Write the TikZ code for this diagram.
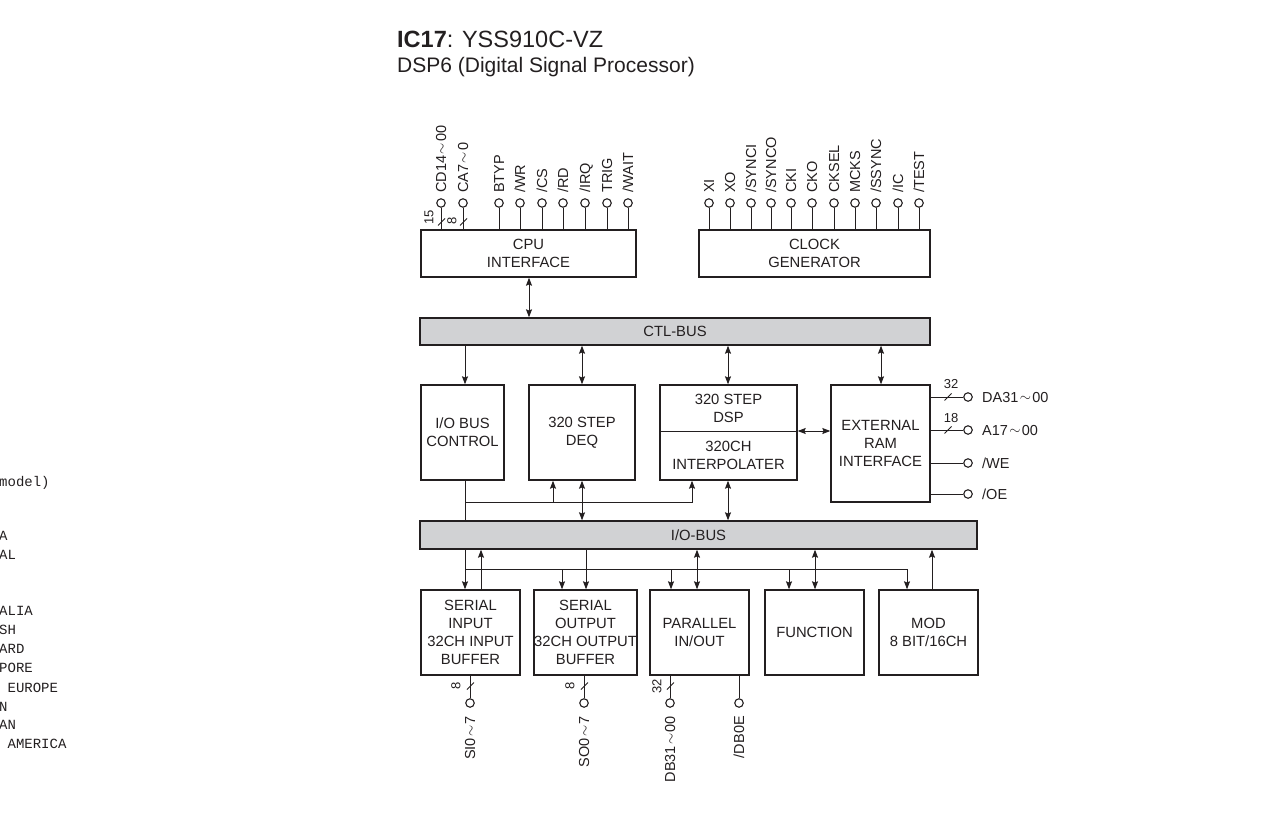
\documentclass[tikz,border=0pt]{standalone}
\usepackage{fontspec}
\setmainfont{Liberation Sans}
\newfontfamily\monofnt{Liberation Mono}
\usetikzlibrary{arrows.meta}
\definecolor{ink}{HTML}{231F20}
\definecolor{busgray}{HTML}{D1D2D4}
\newcommand{\wtld}{\makebox[0.95em]{\raisebox{0.5pt}{$\sim$}}}
\tikzset{
 blk/.style={draw=ink, line width=1.4pt, fill=white, text=ink, align=center, inner sep=0pt, font=\fontsize{14.8}{18}\selectfont},
 bus/.style={blk, fill=busgray},
 wire/.style={draw=ink, line width=0.9pt},
 arr/.style={wire, -{Stealth[length=8pt,width=6pt,inset=1.2pt]}},
 darr/.style={wire, {Stealth[length=8pt,width=6pt,inset=1.2pt]}-{Stealth[length=8pt,width=6pt,inset=1.2pt]}},
 pinc/.style={circle, draw=ink, line width=1.1pt, fill=white, minimum size=8.5pt, inner sep=0pt},
 plab/.style={text=ink, inner sep=0pt, font=\fontsize{14.5}{16}\selectfont, text height=10.4pt, text depth=0pt},
 toplab/.style={plab, rotate=90, anchor=west},
 botlab/.style={plab, rotate=90, anchor=east},
 rlab/.style={plab, anchor=west},
 num/.style={text=ink, inner sep=0pt, font=\fontsize{13}{14}\selectfont},
 mono/.style={inner sep=0pt, anchor=base west, font=\monofnt\fontsize{14}{16}\selectfont, text=ink},
 ttl/.style={inner sep=0pt, anchor=base west, text=ink, font=\fontsize{21}{25}\selectfont},
}
\begin{document}
\begin{tikzpicture}[x=1pt,y=-1pt]
\useasboundingbox (0,0) rectangle (1268,819);

% title
\node[ttl, font=\fontsize{23.5}{26}\selectfont] (title) at (397,47) {\textbf{IC17}: YSS910C-VZ};
\node[ttl] (subtitle) at (397,72) {DSP6 (Digital Signal Processor)};

% clipped text from neighbouring column
\node[mono] (m1) at (-1,486.5) {model)};
\node[mono] (m2) at (-1,540) {A};
\node[mono] (m3) at (-1,559) {AL};
\node[mono] (m4) at (-1,615) {ALIA};
\node[mono] (m5) at (-1,634.5) {SH};
\node[mono] (m6) at (-1,653.5) {ARD};
\node[mono] (m7) at (-1,672.5) {PORE};
\node[mono] (m8) at (-1,692) {\hphantom{A}EUROPE};
\node[mono] (m9) at (-1,711) {N};
\node[mono] (m10) at (-1,729.5) {AN};
\node[mono] (m11) at (-1,748.5) {\hphantom{A}AMERICA};

% blocks
\node[blk, minimum width=215pt, minimum height=47pt] (cpu) at (528.5,253.5) {CPU\\INTERFACE};
\node[blk, minimum width=231pt, minimum height=47pt] (clk) at (814.5,253.5) {CLOCK\\GENERATOR};
\node[bus, minimum width=510pt, minimum height=27pt] (ctl) at (675,331.5) {CTL-BUS};

\node[blk, minimum width=83pt, minimum height=95pt] (iobc) at (462.5,432.5) {I/O BUS\\CONTROL};
\node[blk, minimum width=106pt, minimum height=95pt] (deq) at (582,432.5) {320 STEP\\DEQ};
\node[blk, minimum width=137pt, minimum height=95pt] (dsp) at (728.5,432.5) {};
\draw[wire] (dsp.west |- 0,431) -- (dsp.east |- 0,431);
\node[blk, draw=none, fill=none] (dspT) at (728.5,408) {320 STEP\\DSP};
\node[blk, draw=none, fill=none] (dspB) at (728.5,455.5) {320CH\\INTERPOLATER};
\node[blk, minimum width=99pt, minimum height=117pt] (ram) at (880.5,443.5) {EXTERNAL\\RAM\\INTERFACE};

\node[bus, minimum width=557pt, minimum height=28pt] (iobus) at (698.5,535) {I/O-BUS};

\node[blk, minimum width=99pt, minimum height=85pt] (sin) at (470.5,632.5) {SERIAL\\INPUT\\32CH INPUT\\BUFFER};
\node[blk, minimum width=99pt, minimum height=85pt] (sout) at (585.5,632.5) {SERIAL\\OUTPUT\\32CH OUTPUT\\BUFFER};
\node[blk, minimum width=99pt, minimum height=85pt] (par) at (699.5,632.5) {PARALLEL\\IN/OUT};
\node[blk, minimum width=99pt, minimum height=85pt] (fun) at (814.5,632.5) {FUNCTION};
\node[blk, minimum width=99pt, minimum height=85pt] (mod) at (928.5,632.5) {MOD\\8 BIT/16CH};

% CPU pins
\foreach \px/\nm/\lb in {441/cd/{CD14\wtld00},463/ca/{CA7\wtld0},499/btyp/{BTYP},520/wr/{/WR},542/cs/{/CS},563/rd/{/RD},585/irq/{/IRQ},607/trig/{TRIG},628/wait/{/WAIT}}{
  \node[pinc] (p\nm) at (\px,203) {};
  \node[toplab] (l\nm) at (\px,193) {\lb};
  \draw[wire] (p\nm) -- (cpu.north -| p\nm);
}
\draw[wire] (438,225.5) -- (445,218.5);
\draw[wire] (460,225.5) -- (467,218.5);
\node[num, rotate=90] (n15) at (429,217) {15};
\node[num, rotate=90] (n8a) at (452,221) {8};

% clock pins
\foreach \px/\nm/\lb in {709/xi/{XI},730/xo/{XO},751/synci/{/SYNCI},771/synco/{/SYNCO},791/cki/{CKI},812/cko/{CKO},834/cksel/{CKSEL},855/mcks/{MCKS},876/ssync/{/SSYNC},898/ic/{/IC},919/test/{/TEST}}{
  \node[pinc] (p\nm) at (\px,203) {};
  \node[toplab] (l\nm) at (\px,193) {\lb};
  \draw[wire] (p\nm) -- (clk.north -| p\nm);
}

% CTL bus connections
\draw[darr] (cpu.south -| 529,0) -- (ctl.north -| 529,0);
\draw[arr] (ctl.south -| 465,0) -- (iobc.north -| 465,0);
\draw[darr] (ctl.south -| 582,0) -- (deq.north -| 582,0);
\draw[darr] (ctl.south -| 728,0) -- (dsp.north -| 728,0);
\draw[darr] (ctl.south -| 881,0) -- (ram.north -| 881,0);
\draw[darr] (dsp.east |- 0,431) -- (ram.west |- 0,431);

% between middle blocks and I/O bus
\coordinate (j1) at (465,502);
\draw[wire] (iobc.south -| j1) -- (iobus.north -| j1);
\draw[arr] (j1) -| (dsp.south -| 692,0);
\draw[arr] (j1 -| 553,0) -- (deq.south -| 553,0);
\draw[darr] (deq.south -| 582,0) -- (iobus.north -| 582,0);
\draw[darr] (dsp.south -| 728,0) -- (iobus.north -| 728,0);

% below I/O bus
\coordinate (j2) at (465,569);
\draw[arr] (iobus.south -| j2) -- (sin.north -| j2);
\draw[arr] (j2) -| (mod.north -| 907,0);
\draw[arr] (j2 -| 562,0) -- (sout.north -| 562,0);
\draw[arr] (j2 -| 671,0) -- (par.north -| 671,0);
\draw[arr] (j2 -| 789,0) -- (fun.north -| 789,0);
\draw[arr] (sin.north -| 481,0) -- (iobus.south -| 481,0);
\draw[arr] (iobus.south -| 586,0) -- (sout.north -| 586,0);
\draw[darr] (par.north -| 697,0) -- (iobus.south -| 697,0);
\draw[darr] (fun.north -| 815,0) -- (iobus.south -| 815,0);
\draw[arr] (mod.north -| 932,0) -- (iobus.south -| 932,0);

% external RAM pins
\foreach \py/\nm/\lb in {397/da/{DA31\wtld00},430/aa/{A17\wtld00},463/we/{/WE},494/oe/{/OE}}{
  \node[pinc] (p\nm) at (968,\py) {};
  \node[rlab] (l\nm) at (982,\py) {\lb};
  \draw[wire] (ram.east |- p\nm) -- (p\nm);
}
\draw[wire] (944.5,400.5) -- (951.5,393.5);
\draw[wire] (944.5,433.5) -- (951.5,426.5);
\node[num] (n32a) at (951,384) {32};
\node[num] (n18) at (951,418) {18};

% bottom pins
\foreach \px/\nm/\bx/\lb in {470/si/sin/{SI0\wtld7},584/so/sout/{SO0\wtld7},670/db/par/{DB31\wtld00},739/dboe/par/{/DB0E}}{
  \node[pinc] (p\nm) at (\px,703) {};
  \node[botlab] (l\nm) at (\px,716) {\lb};
  \draw[wire] (\bx.south -| p\nm) -- (p\nm);
}
\draw[wire] (467,689.5) -- (474,682.5);
\draw[wire] (581,689.5) -- (588,682.5);
\draw[wire] (667,689.5) -- (674,682.5);
\node[num, rotate=90] (n8b) at (456,686) {8};
\node[num, rotate=90] (n8c) at (570,686) {8};
\node[num, rotate=90] (n32b) at (657,686) {32};
\end{tikzpicture}
\end{document}
